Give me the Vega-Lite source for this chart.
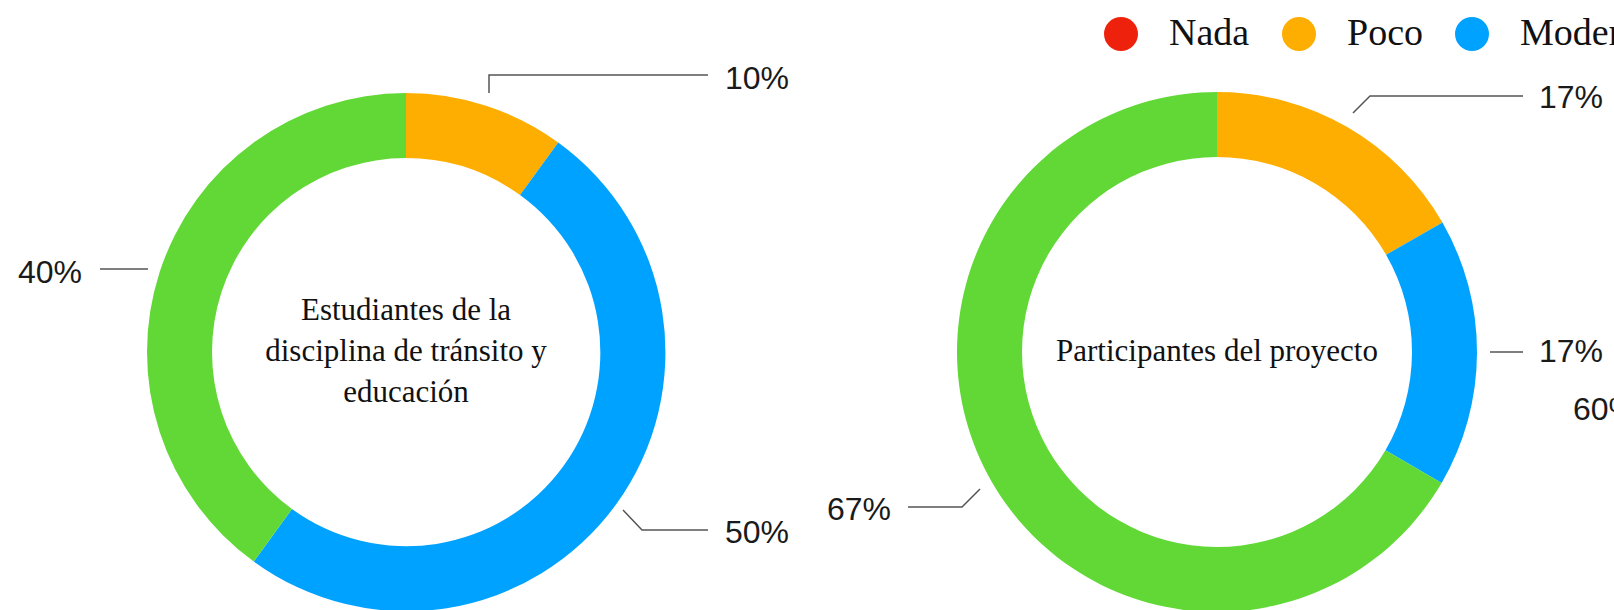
{
  "$schema": "https://vega.github.io/schema/vega-lite/v6.json",
  "width": 1614,
  "height": 610,
  "padding": 0,
  "autosize": {"type": "none"},
  "background": "white",
  "config": {"view": {"stroke": null}},
  "datasets": {
    "left": [
      {"categoria": "Poco", "orden": 1, "valor": 10},
      {"categoria": "Moderado", "orden": 2, "valor": 50},
      {"categoria": "Mucho", "orden": 3, "valor": 40}
    ],
    "right": [
      {"categoria": "Poco", "orden": 1, "valor": 16.7},
      {"categoria": "Moderado", "orden": 2, "valor": 16.7},
      {"categoria": "Mucho", "orden": 3, "valor": 66.6}
    ],
    "centers": [
      {"cx": 406, "cy": 311, "texto": "Estudiantes de la\ndisciplina de tránsito y\neducación"},
      {"cx": 1217, "cy": 352, "texto": "Participantes del proyecto"}
    ],
    "labels": [
      {"lx": 725, "ly": 79, "texto": "10%"},
      {"lx": 725, "ly": 533, "texto": "50%"},
      {"lx": 18, "ly": 273, "texto": "40%"},
      {"lx": 827, "ly": 510, "texto": "67%"},
      {"lx": 1539, "ly": 98, "texto": "17%"},
      {"lx": 1539, "ly": 352, "texto": "17%"},
      {"lx": 1573, "ly": 410, "texto": "60%"}
    ],
    "lines": [
      {"id": "a", "k": 1, "px": 489, "py": 93},
      {"id": "a", "k": 2, "px": 489, "py": 75},
      {"id": "a", "k": 3, "px": 708, "py": 75},
      {"id": "b", "k": 1, "px": 100, "py": 269},
      {"id": "b", "k": 2, "px": 148, "py": 269},
      {"id": "c", "k": 1, "px": 623, "py": 510},
      {"id": "c", "k": 2, "px": 642, "py": 530},
      {"id": "c", "k": 3, "px": 708, "py": 530},
      {"id": "d", "k": 1, "px": 908, "py": 507},
      {"id": "d", "k": 2, "px": 962, "py": 507},
      {"id": "d", "k": 3, "px": 980, "py": 489},
      {"id": "e", "k": 1, "px": 1353, "py": 113},
      {"id": "e", "k": 2, "px": 1370, "py": 96},
      {"id": "e", "k": 3, "px": 1523, "py": 96},
      {"id": "f", "k": 1, "px": 1490, "py": 352},
      {"id": "f", "k": 2, "px": 1523, "py": 352}
    ]
  },
  "layer": [
    {
      "data": {"name": "left"},
      "mark": {"type": "arc", "radius": 259, "radius2": 194},
      "encoding": {
        "x": {"datum": 406, "type": "quantitative", "scale": {"domain": [0, 1614], "nice": false, "zero": false}, "axis": null},
        "y": {"datum": 352, "type": "quantitative", "scale": {"domain": [0, 610], "reverse": true, "nice": false, "zero": false}, "axis": null},
        "theta": {"field": "valor", "type": "quantitative", "stack": true, "scale": {"domain": [0, 100]}},
        "color": {
          "field": "categoria",
          "type": "nominal",
          "scale": {"domain": ["Nada", "Poco", "Moderado", "Mucho"], "range": ["#EE220C", "#FEAE00", "#00A2FF", "#61D836"]},
          "legend": {
            "title": null,
            "orient": "none",
            "legendX": 1102,
            "legendY": 15,
            "direction": "horizontal",
            "padding": 0,
            "symbolType": "circle",
            "symbolSize": 1156,
            "symbolStrokeWidth": 0,
            "symbolOpacity": 1,
            "labelFont": "Liberation Serif",
            "labelFontSize": 38,
            "labelColor": "#111111",
            "labelOffset": 29,
            "columnPadding": 30,
            "labelLimit": 400
          }
        },
        "order": {"field": "orden", "type": "quantitative"}
      }
    },
    {
      "data": {"name": "right"},
      "mark": {"type": "arc", "radius": 260, "radius2": 195},
      "encoding": {
        "x": {"datum": 1217, "type": "quantitative"},
        "y": {"datum": 352, "type": "quantitative"},
        "theta": {"field": "valor", "type": "quantitative", "stack": true},
        "color": {"field": "categoria", "type": "nominal"},
        "order": {"field": "orden", "type": "quantitative"}
      }
    },
    {
      "data": {"name": "lines"},
      "mark": {"type": "line", "color": "#555555", "strokeWidth": 1.5},
      "encoding": {
        "x": {"field": "px", "type": "quantitative"},
        "y": {"field": "py", "type": "quantitative"},
        "detail": {"field": "id"},
        "order": {"field": "k", "type": "quantitative"}
      }
    },
    {
      "data": {"name": "labels"},
      "mark": {"type": "text", "align": "left", "baseline": "middle", "font": "Liberation Sans", "fontSize": 32, "color": "#1a1a1a"},
      "encoding": {
        "x": {"field": "lx", "type": "quantitative"},
        "y": {"field": "ly", "type": "quantitative"},
        "text": {"field": "texto"}
      }
    },
    {
      "data": {"name": "centers"},
      "mark": {"type": "text", "align": "center", "baseline": "middle", "font": "Liberation Serif", "fontSize": 31, "lineHeight": 41, "lineBreak": "\n", "color": "#111111"},
      "encoding": {
        "x": {"field": "cx", "type": "quantitative"},
        "y": {"field": "cy", "type": "quantitative"},
        "text": {"field": "texto"}
      }
    }
  ]
}
